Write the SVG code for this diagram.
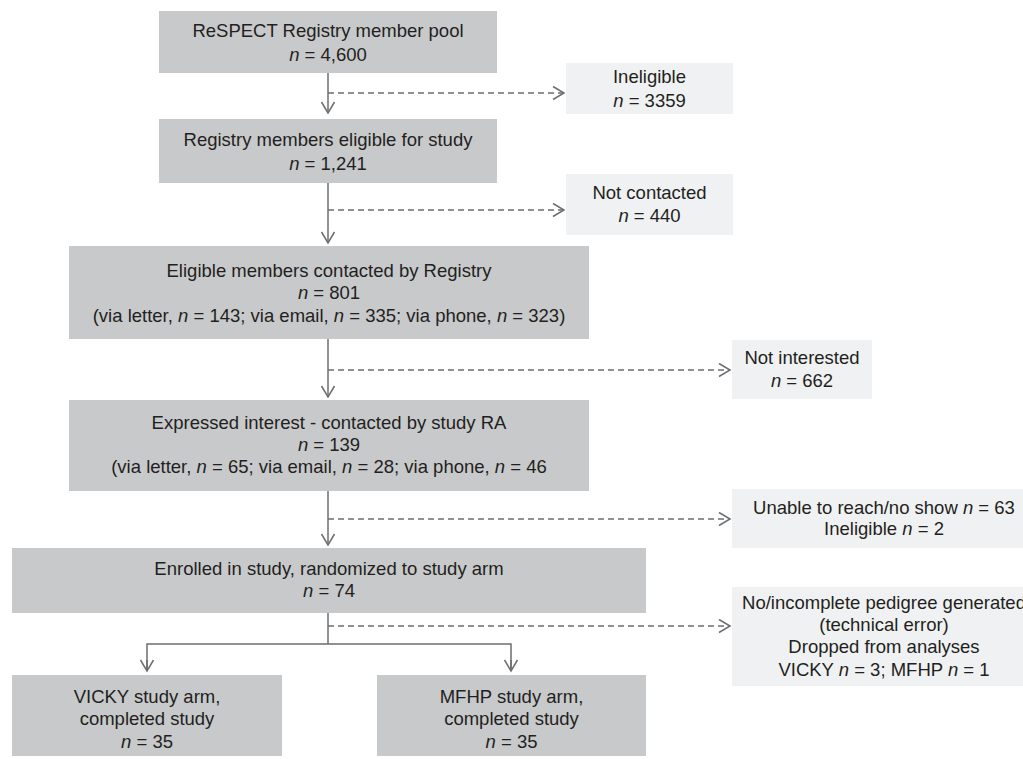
<svg xmlns="http://www.w3.org/2000/svg" width="1023" height="759" viewBox="0 0 1023 759">
<style>
  .main { fill: #c8c9cb; }
  .side { fill: #f0f1f2; }
  text { font-family: "Liberation Sans", Arial, sans-serif; font-size: 18.5px; fill: #231f20; text-anchor: middle; }
  tspan.i { font-style: italic; }
  .solid { stroke: #6d6e70; stroke-width: 1.5; fill: none; }
  .dash { stroke: #6d6e70; stroke-width: 1.3; fill: none; stroke-dasharray: 6 4; }
</style>
<defs>
  <marker id="arr" viewBox="-13 -8 15 16" refX="0" refY="0" markerWidth="15" markerHeight="16" markerUnits="userSpaceOnUse" orient="auto">
    <path d="M-11,-6.5 L0,0 L-11,6.5" fill="none" stroke="#6d6e70" stroke-width="1.5" stroke-dasharray="none"/>
  </marker>
</defs>
<rect width="1023" height="759" fill="#ffffff"/>

<g id="connectors">
  <path class="solid" d="M328,73 V113" marker-end="url(#arr)"/>
  <path class="dash" d="M328,93 H564" marker-end="url(#arr)"/>
  <path class="solid" d="M328,183 V243" marker-end="url(#arr)"/>
  <path class="dash" d="M328,210 H564" marker-end="url(#arr)"/>
  <path class="solid" d="M328,339 V397" marker-end="url(#arr)"/>
  <path class="dash" d="M328,370 H730" marker-end="url(#arr)"/>
  <path class="solid" d="M328,491 V545" marker-end="url(#arr)"/>
  <path class="dash" d="M328,519 H730" marker-end="url(#arr)"/>
  <path class="solid" d="M328,613 V644"/>
  <path class="dash" d="M328,626 H730" marker-end="url(#arr)"/>
  <path class="solid" d="M147,671 V644 H511 V671"/>
  <path class="solid" d="M147,660 V671" marker-end="url(#arr)"/>
  <path class="solid" d="M511,660 V671" marker-end="url(#arr)"/>
</g>

<g id="pool">
  <rect class="main" x="159" y="11" width="338" height="62"/>
  <text x="328" y="37">ReSPECT Registry member pool</text>
  <text x="328" y="61"><tspan class="i">n</tspan> = 4,600</text>
</g>
<g id="ineligible">
  <rect class="side" x="566" y="63" width="167" height="51"/>
  <text x="649.5" y="83">Ineligible</text>
  <text x="649.5" y="107"><tspan class="i">n</tspan> = 3359</text>
</g>
<g id="eligible">
  <rect class="main" x="159" y="119" width="338" height="64"/>
  <text x="328" y="146">Registry members eligible for study</text>
  <text x="328" y="170"><tspan class="i">n</tspan> = 1,241</text>
</g>
<g id="not-contacted">
  <rect class="side" x="566" y="174" width="167" height="61"/>
  <text x="649.5" y="199">Not contacted</text>
  <text x="649.5" y="222"><tspan class="i">n</tspan> = 440</text>
</g>
<g id="contacted">
  <rect class="main" x="69" y="246" width="520" height="93"/>
  <text x="329" y="277">Eligible members contacted by Registry</text>
  <text x="329" y="299"><tspan class="i">n</tspan> = 801</text>
  <text x="329" y="322">(via letter, <tspan class="i">n</tspan> = 143; via email, <tspan class="i">n</tspan> = 335; via phone, <tspan class="i">n</tspan> = 323)</text>
</g>
<g id="not-interested">
  <rect class="side" x="732" y="340" width="140" height="59"/>
  <text x="802" y="364">Not interested</text>
  <text x="802" y="387"><tspan class="i">n</tspan> = 662</text>
</g>
<g id="interest">
  <rect class="main" x="69" y="400" width="520" height="91"/>
  <text x="329" y="429">Expressed interest - contacted by study RA</text>
  <text x="329" y="451"><tspan class="i">n</tspan> = 139</text>
  <text x="329" y="473">(via letter, <tspan class="i">n</tspan> = 65; via email, <tspan class="i">n</tspan> = 28; via phone, <tspan class="i">n</tspan> = 46</text>
</g>
<g id="unable">
  <rect class="side" x="732" y="489" width="304" height="59"/>
  <text x="884" y="514">Unable to reach/no show <tspan class="i">n</tspan> = 63</text>
  <text x="884" y="535">Ineligible <tspan class="i">n</tspan> = 2</text>
</g>
<g id="enrolled">
  <rect class="main" x="12" y="548" width="634" height="65"/>
  <text x="329" y="575">Enrolled in study, randomized to study arm</text>
  <text x="329" y="597"><tspan class="i">n</tspan> = 74</text>
</g>
<g id="pedigree">
  <rect class="side" x="732" y="587" width="304" height="99"/>
  <text x="884" y="609">No/incomplete pedigree generated</text>
  <text x="884" y="631">(technical error)</text>
  <text x="884" y="653">Dropped from analyses</text>
  <text x="884" y="676">VICKY <tspan class="i">n</tspan> = 3; MFHP <tspan class="i">n</tspan> = 1</text>
</g>
<g id="vicky">
  <rect class="main" x="12" y="675" width="270" height="81"/>
  <text x="147" y="703">VICKY study arm,</text>
  <text x="147" y="725">completed study</text>
  <text x="147" y="748"><tspan class="i">n</tspan> = 35</text>
</g>
<g id="mfhp">
  <rect class="main" x="377" y="675" width="269" height="81"/>
  <text x="511.5" y="703">MFHP study arm,</text>
  <text x="511.5" y="725">completed study</text>
  <text x="511.5" y="748"><tspan class="i">n</tspan> = 35</text>
</g>
</svg>
